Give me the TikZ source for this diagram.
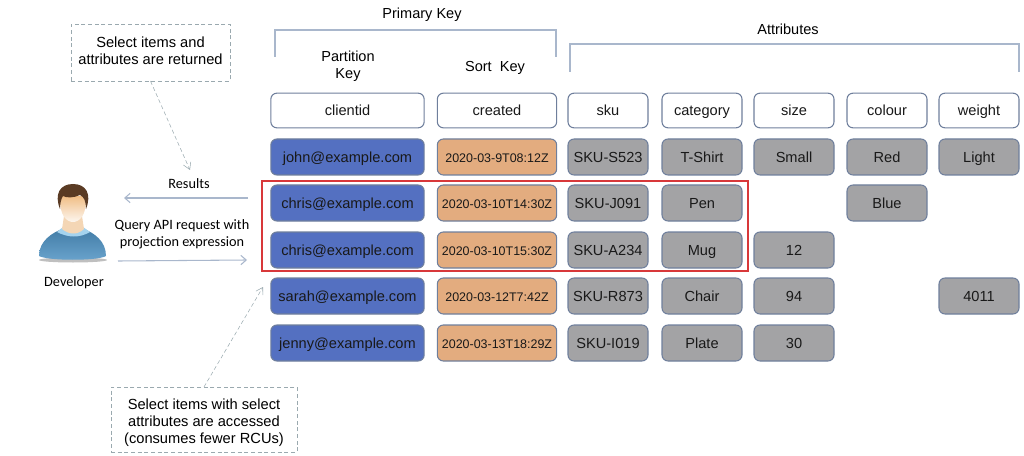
\documentclass[tikz,border=0pt]{standalone}
\usepackage{xcolor}
\usepackage{fontspec}
\setmainfont{Liberation Sans}
\newfontfamily\labelfont{Carlito}
\usetikzlibrary{
  arrows.meta,
  positioning,
  calc
}
\definecolor{isLine}{HTML}{A9B7CC}
\definecolor{isEdge}{HTML}{6F7F9C}
\definecolor{isBlue}{HTML}{5470C1}
\definecolor{isOrange}{HTML}{E3AC7F}
\definecolor{isGrey}{HTML}{A3A3A5}
\definecolor{isRed}{HTML}{D8383A}
\definecolor{isNote}{HTML}{9AA9AF}
\definecolor{isHair}{HTML}{5A3B24}
\definecolor{isSkin}{HTML}{EFC595}
\definecolor{isShirt}{HTML}{4F93C4}
\definecolor{isCollar}{HTML}{A5D3EE}
\tikzset{
  cellbox/.style={draw=isEdge, thick, rounded corners=4.5pt, minimum height=27pt, inner sep=0pt, text height=9.8pt, text depth=2pt, text=black!90, font=\fontsize{10.95}{12}\selectfont},
  headbox/.style={cellbox, fill=white, minimum height=26pt},
  mailbox/.style={cellbox, fill=isBlue, minimum width=115pt},
  datebox/.style={cellbox, fill=isOrange, minimum width=89.5pt, font=\fontsize{9.35}{11}\selectfont},
  attrbox/.style={cellbox, fill=isGrey, minimum width=60pt},
  notebox/.style={draw=isNote, densely dashed, align=center, inner sep=0pt, font=\fontsize{11}{13}\selectfont},
  notearrow/.style={draw=isNote, densely dashed, -{Straight Barb[length=5pt,width=6pt]}},
  flowarrow/.style={draw=isLine, thick, -{Straight Barb[length=4pt,width=7pt]}},
  keytext/.style={align=center, font=\fontsize{10.9}{13}\selectfont},
  devtext/.style={align=center, font=\labelfont\fontsize{10.7}{13}\selectfont}
}
\begin{document}
\begin{tikzpicture}[x=0.75pt,y=-0.75pt]
  \useasboundingbox (0,0) rectangle (1024,456);
  % key brackets
  \draw[isLine, thick] (275,57) -- (275,30) -- (556,30) -- (556,57);
  \draw[isLine, thick] (570,72) -- (570,44) -- (1019,44) -- (1019,72);
  \node[keytext] (primary) at (422,15) {Primary Key};
  \node[keytext] (attributes) at (788,29) {Attributes};
  \node[keytext] (partition) at (348,66) {Partition\\Key};
  \node[keytext] (sortkey) at (495,68) {Sort~ Key};
  % header row
  \node[headbox, minimum width=115pt] (clientid) at (347.5,110.5) {clientid};
  \node[headbox, minimum width=89.5pt] (created) at (497,110.5) {created};
  \node[headbox, minimum width=60pt] (sku) at (608,110.5) {sku};
  \node[headbox, minimum width=60pt] (category) at (702,110.5) {category};
  \node[headbox, minimum width=60pt] (size) at (794,110.5) {size};
  \node[headbox, minimum width=60pt] (colour) at (887,110.5) {colour};
  \node[headbox, minimum width=60pt] (weight) at (979,110.5) {weight};
  % john
  \node[mailbox] (john) at (347.5,157) {john@example.com};
  \node[datebox] (johndate) at (497,157) {2020-03-9T08:12Z};
  \node[attrbox] (johnsku) at (608,157) {SKU-S523};
  \node[attrbox] (johncat) at (702,157) {T-Shirt};
  \node[attrbox] (johnsize) at (794,157) {Small};
  \node[attrbox] (johncol) at (887,157) {Red};
  \node[attrbox] (johnwgt) at (979,157) {Light};
  % chris, first item
  \node[mailbox] (chrisa) at (347.5,203) {chris@example.com};
  \node[datebox] (chrisadate) at (497,203) {2020-03-10T14:30Z};
  \node[attrbox] (chrisasku) at (608,203) {SKU-J091};
  \node[attrbox] (chrisacat) at (702,203) {Pen};
  \node[attrbox] (chrisacol) at (887,203) {Blue};
  % chris, second item
  \node[mailbox] (chrisb) at (347.5,250) {chris@example.com};
  \node[datebox] (chrisbdate) at (497,250) {2020-03-10T15:30Z};
  \node[attrbox] (chrisbsku) at (608,250) {SKU-A234};
  \node[attrbox] (chrisbcat) at (702,250) {Mug};
  \node[attrbox] (chrisbsize) at (794,250) {12};
  % sarah
  \node[mailbox] (sarah) at (347.5,296) {sarah@example.com};
  \node[datebox] (sarahdate) at (497,296) {2020-03-12T7:42Z};
  \node[attrbox] (sarahsku) at (608,296) {SKU-R873};
  \node[attrbox] (sarahcat) at (702,296) {Chair};
  \node[attrbox] (sarahsize) at (794,296) {94};
  \node[attrbox] (sarahwgt) at (979,296) {4011};
  % jenny
  \node[mailbox] (jenny) at (347.5,343) {jenny@example.com};
  \node[datebox] (jennydate) at (497,343) {2020-03-13T18:29Z};
  \node[attrbox] (jennysku) at (608,343) {SKU-I019};
  \node[attrbox] (jennycat) at (702,343) {Plate};
  \node[attrbox] (jennysize) at (794,343) {30};
  % selected items
  \node[draw=isRed, thick, minimum width=364.5pt, minimum height=67.5pt, inner sep=0pt] (selected) at (505,226) {};
  % developer
  \fill[black!25] (73,260) ellipse (34 and 2.5);
  \shade[top color=isShirt!85!black, bottom color=isShirt!85!white] (39,256) .. controls (39,241) and (52,233) .. (62,229) -- (84,229) .. controls (94,233) and (106,241) .. (106,256) .. controls (98,261) and (48,261) .. (39,256) -- cycle;
  \fill[isCollar] (57,232) -- (63,227) -- (83,227) -- (90,232) .. controls (80,238) and (68,238) .. (57,232) -- cycle;
  \fill[isSkin!70!white] (64,216) -- (82,216) -- (84,229) .. controls (78,235) and (69,235) .. (62,229) -- cycle;
  \shade[top color=isSkin!90!orange, bottom color=isSkin!15!white] (60,196) .. controls (59,216) and (67,222) .. (73,222) .. controls (79,222) and (87,216) .. (86,196) -- cycle;
  \fill[isHair] (60,209) .. controls (54,194) and (60,184) .. (73,184) .. controls (86,184) and (92,194) .. (86,209) .. controls (86,201) and (84,197) .. (80,195) .. controls (74,198) and (66,198) .. (63,196) .. controls (61,199) and (60,204) .. (60,209) -- cycle;
  \node[devtext] (developer) at (74,283) {Developer};
  % request and results
  \coordinate (resultsfrom) at (248,198);
  \coordinate (resultsto) at (124,198);
  \coordinate (queryfrom) at (118,261);
  \coordinate (queryto) at (247,260);
  \draw[flowarrow] (resultsfrom) -- (resultsto);
  \draw[flowarrow] (queryfrom) -- (queryto);
  \node[devtext] (results) at (189,184) {Results};
  \node[devtext] (query) at (182,234) {Query API request with\\projection expression};
  % notes
  \node[notebox, minimum width=119pt, minimum height=42.5pt] (notereturned) at (150.5,52.5) {Select items and\\attributes are returned\rule[-3pt]{0pt}{3pt}};
  \node[notebox, minimum width=139.5pt, minimum height=48.5pt] (noteaccessed) at (204,419.5) {\rule{0pt}{13pt}Select items with select\\attributes are accessed\\(consumes fewer RCUs)};
  \coordinate (returnedto) at (190,170);
  \coordinate (accessedto) at (263,287);
  \draw[notearrow] (notereturned.south) -- (returnedto);
  \draw[notearrow] (noteaccessed.north) -- (accessedto);
\end{tikzpicture}
\end{document}
